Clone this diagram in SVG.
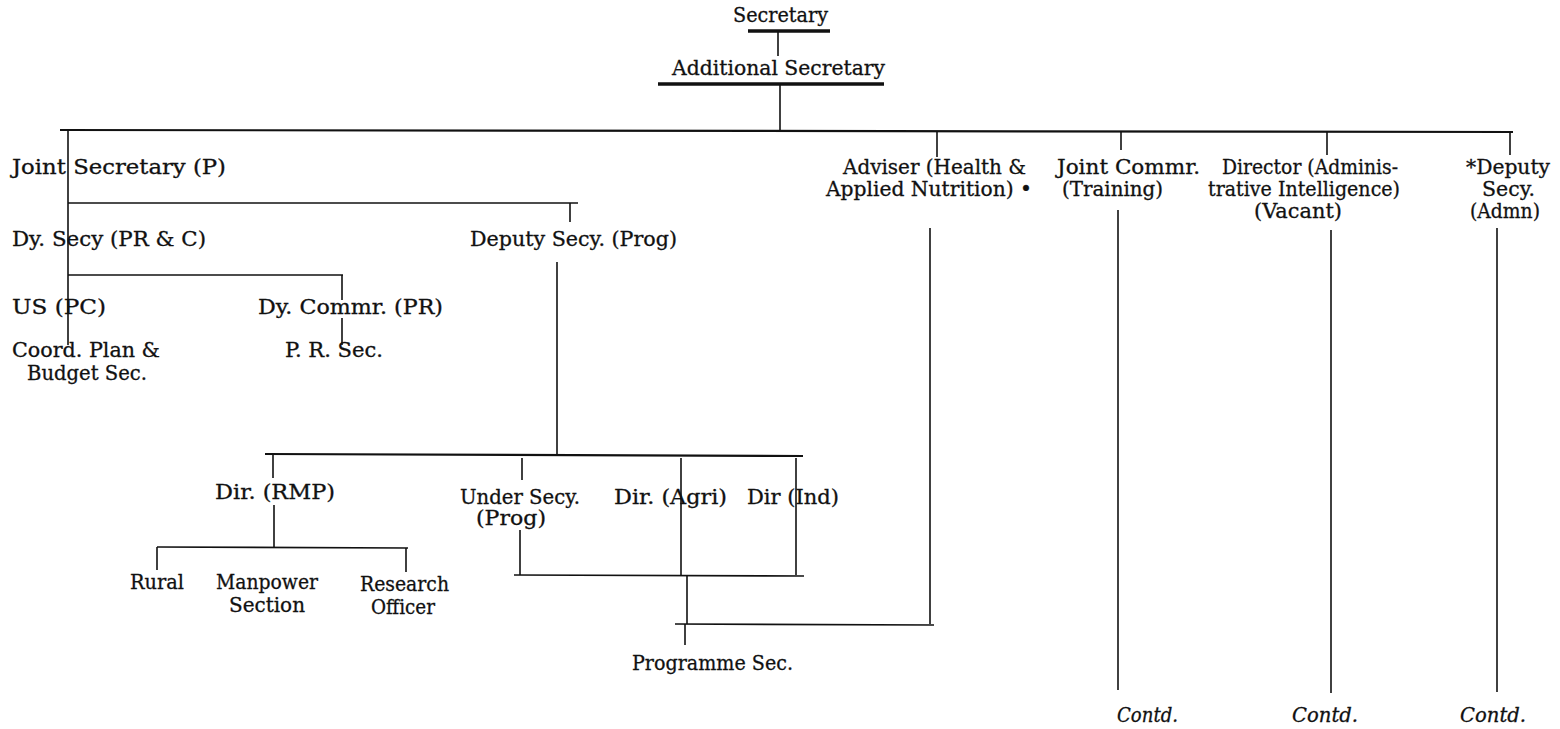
<svg xmlns="http://www.w3.org/2000/svg" width="1560" height="729" viewBox="0 0 1560 729">
<style>
text{font-family:"DejaVu Serif","Liberation Serif",serif;font-size:20px;fill:#111;stroke:#111;stroke-width:0.3}
.it{font-style:italic}
.c line{stroke:#111;stroke-width:1.6;fill:none}
.c .m{stroke-width:2.2}
.c .t{stroke-width:3.6}
</style>
<rect width="1560" height="729" fill="#fff"/>
<g id="connectors" class="c">
<line class="t" x1="748" y1="31" x2="830" y2="31"/>
<line x1="778" y1="31" x2="778" y2="56"/>
<line class="t" x1="658" y1="84" x2="884" y2="84"/>
<line x1="780" y1="84" x2="780" y2="131"/>
<line class="m" x1="60" y1="130" x2="1513" y2="132"/>
<line x1="68" y1="130" x2="68" y2="345"/>
<line x1="68" y1="203" x2="578" y2="203"/>
<line x1="570" y1="203" x2="570" y2="222"/>
<line x1="68" y1="275" x2="343" y2="275"/>
<line x1="342" y1="275" x2="342" y2="300"/>
<line x1="342" y1="318" x2="342" y2="345"/>
<line x1="557" y1="262" x2="557" y2="455"/>
<line class="m" x1="265" y1="454" x2="803" y2="456"/>
<line x1="273" y1="455" x2="273" y2="478"/>
<line x1="274" y1="505" x2="274" y2="547"/>
<line x1="157" y1="547" x2="408" y2="548"/>
<line x1="157" y1="547" x2="157" y2="570"/>
<line x1="406" y1="548" x2="406" y2="572"/>
<line x1="522" y1="458" x2="522" y2="480"/>
<line x1="520" y1="530" x2="520" y2="575"/>
<line x1="681" y1="458" x2="681" y2="575"/>
<line x1="796" y1="458" x2="796" y2="575"/>
<line x1="514" y1="575" x2="804" y2="576"/>
<line x1="687" y1="576" x2="687" y2="624"/>
<line x1="675" y1="624" x2="934" y2="625"/>
<line x1="685" y1="624" x2="685" y2="645"/>
<line x1="930" y1="228" x2="930" y2="624"/>
<line x1="937" y1="131" x2="937" y2="157"/>
<line x1="1121" y1="131" x2="1121" y2="150"/>
<line x1="1118" y1="210" x2="1118" y2="690"/>
<line x1="1327" y1="132" x2="1327" y2="155"/>
<line x1="1331" y1="230" x2="1331" y2="693"/>
<line x1="1510" y1="132" x2="1510" y2="155"/>
<line x1="1497" y1="228" x2="1497" y2="692"/>
</g>
<g id="secretary"><text x="733" y="22" textLength="95" lengthAdjust="spacingAndGlyphs">Secretary</text></g>
<g id="additional-secretary"><text x="672" y="75" textLength="213" lengthAdjust="spacingAndGlyphs">Additional Secretary</text></g>
<g id="joint-secretary-p"><text x="12" y="174" textLength="214" lengthAdjust="spacingAndGlyphs">Joint Secretary (P)</text></g>
<g id="dy-secy-prc"><text x="12" y="246" textLength="194" lengthAdjust="spacingAndGlyphs">Dy. Secy (PR &amp; C)</text></g>
<g id="deputy-secy-prog"><text x="470" y="246" textLength="207" lengthAdjust="spacingAndGlyphs">Deputy Secy. (Prog)</text></g>
<g id="us-pc"><text x="12" y="314" textLength="94" lengthAdjust="spacingAndGlyphs">US (PC)</text></g>
<g id="dy-commr-pr"><text x="258" y="314" textLength="185" lengthAdjust="spacingAndGlyphs">Dy. Commr. (PR)</text></g>
<g id="coord-plan"><text x="12" y="357" textLength="148" lengthAdjust="spacingAndGlyphs">Coord. Plan &amp;</text><text x="27" y="380" textLength="120" lengthAdjust="spacingAndGlyphs">Budget Sec.</text></g>
<g id="pr-sec"><text x="285" y="357" textLength="98" lengthAdjust="spacingAndGlyphs">P. R. Sec.</text></g>
<g id="dir-rmp"><text x="215" y="499" textLength="120" lengthAdjust="spacingAndGlyphs">Dir. (RMP)</text></g>
<g id="rural"><text x="130" y="589" textLength="54" lengthAdjust="spacingAndGlyphs">Rural</text></g>
<g id="manpower"><text x="216" y="589" textLength="102" lengthAdjust="spacingAndGlyphs">Manpower</text><text x="229" y="612" textLength="76" lengthAdjust="spacingAndGlyphs">Section</text></g>
<g id="research"><text x="360" y="591" textLength="89" lengthAdjust="spacingAndGlyphs">Research</text><text x="371" y="614" textLength="64" lengthAdjust="spacingAndGlyphs">Officer</text></g>
<g id="under-secy"><text x="460" y="504" textLength="120" lengthAdjust="spacingAndGlyphs">Under Secy.</text><text x="476" y="525" textLength="70" lengthAdjust="spacingAndGlyphs">(Prog)</text></g>
<g id="dir-agri"><text x="614" y="504" textLength="113" lengthAdjust="spacingAndGlyphs">Dir. (Agri)</text></g>
<g id="dir-ind"><text x="747" y="504" textLength="92" lengthAdjust="spacingAndGlyphs">Dir (Ind)</text></g>
<g id="programme-sec"><text x="632" y="670" textLength="161" lengthAdjust="spacingAndGlyphs">Programme Sec.</text></g>
<g id="adviser"><text x="843" y="174" textLength="183" lengthAdjust="spacingAndGlyphs">Adviser (Health &amp;</text><text x="826" y="196" textLength="206" lengthAdjust="spacingAndGlyphs">Applied Nutrition) •</text></g>
<g id="joint-commr"><text x="1057" y="174" textLength="143" lengthAdjust="spacingAndGlyphs">Joint Commr.</text><text x="1062" y="196" textLength="101" lengthAdjust="spacingAndGlyphs">(Training)</text></g>
<g id="director-ai"><text x="1222" y="174" textLength="176" lengthAdjust="spacingAndGlyphs">Director (Adminis-</text><text x="1208" y="196" textLength="192" lengthAdjust="spacingAndGlyphs">trative Intelligence)</text><text x="1254" y="218" textLength="88" lengthAdjust="spacingAndGlyphs">(Vacant)</text></g>
<g id="deputy-secy-admn"><text x="1466" y="174" textLength="84" lengthAdjust="spacingAndGlyphs">*Deputy</text><text x="1482" y="196" textLength="53" lengthAdjust="spacingAndGlyphs">Secy.</text><text x="1470" y="218" textLength="70" lengthAdjust="spacingAndGlyphs">(Admn)</text></g>
<g id="contd-1"><text class="it" x="1117" y="722" textLength="61" lengthAdjust="spacingAndGlyphs">Contd.</text></g>
<g id="contd-2"><text class="it" x="1292" y="722" textLength="66" lengthAdjust="spacingAndGlyphs">Contd.</text></g>
<g id="contd-3"><text class="it" x="1460" y="722" textLength="66" lengthAdjust="spacingAndGlyphs">Contd.</text></g>
</svg>
